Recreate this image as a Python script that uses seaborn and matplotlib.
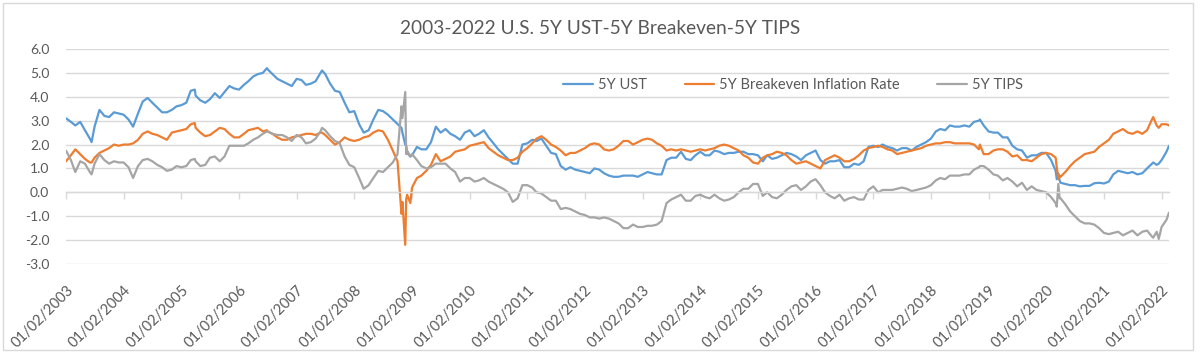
import numpy as np
import pandas as pd
import matplotlib
matplotlib.use("Agg")
import matplotlib.pyplot as plt
import matplotlib.dates as mdates
from matplotlib.lines import Line2D
from matplotlib.patches import Rectangle
import seaborn as sns

# ---------------- data (monthly readings, 2nd of each month, 2003-01 .. 2022-02) -------------
title = "2003-2022 U.S. 5Y UST-5Y Breakeven-5Y TIPS"
series_names = ["5Y UST", "5Y Breakeven Inflation Rate", "5Y TIPS"]
series_colors = ["#5B9BD5", "#ED7D31", "#A5A5A5"]

ust = [
    3.10, 2.95, 2.80, 2.95, 2.60, 2.25, 2.75, 3.45, 3.20, 3.15, 3.35, 3.30,  # 2003
    3.25, 3.05, 2.75, 3.30, 3.80, 3.95, 3.75, 3.55, 3.35, 3.35, 3.45, 3.60,  # 2004
    3.65, 3.75, 4.25, 4.05, 3.85, 3.75, 3.90, 4.15, 3.95, 4.20, 4.45, 4.35,  # 2005
    4.30, 4.50, 4.65, 4.85, 4.95, 5.00, 5.15, 4.95, 4.75, 4.65, 4.55, 4.45,  # 2006
    4.75, 4.70, 4.50, 4.55, 4.65, 5.00, 4.95, 4.55, 4.25, 4.20, 3.75, 3.35,  # 2007
    3.40, 2.85, 2.50, 2.60, 3.05, 3.45, 3.40, 3.25, 3.05, 2.85, 2.50, 1.65,  # 2008
    1.55, 1.90, 1.80, 1.80, 2.10, 2.75, 2.50, 2.65, 2.45, 2.35, 2.20, 2.50,  # 2009
    2.60, 2.35, 2.45, 2.60, 2.30, 2.05, 1.80, 1.60, 1.40, 1.20, 1.20, 2.00,  # 2010
    2.05, 2.20, 2.15, 2.25, 1.95, 1.65, 1.60, 1.10, 0.95, 1.05, 0.95, 0.90,  # 2011
    0.85, 0.80, 1.00, 0.95, 0.80, 0.70, 0.65, 0.65, 0.70, 0.70, 0.70, 0.65,  # 2012
    0.75, 0.85, 0.80, 0.75, 0.75, 1.35, 1.45, 1.45, 1.70, 1.40, 1.35, 1.55,  # 2013
    1.70, 1.55, 1.55, 1.75, 1.70, 1.60, 1.65, 1.65, 1.70, 1.70, 1.60, 1.60,  # 2014
    1.55, 1.30, 1.55, 1.40, 1.45, 1.55, 1.65, 1.60, 1.50, 1.35, 1.55, 1.65,  # 2015
    1.75, 1.35, 1.20, 1.30, 1.30, 1.35, 1.05, 1.05, 1.20, 1.15, 1.30, 1.90,  # 2016
    1.95, 1.90, 2.00, 1.90, 1.85, 1.75, 1.85, 1.85, 1.75, 1.90, 2.00, 2.10,  # 2017
    2.25, 2.55, 2.65, 2.60, 2.80, 2.75, 2.75, 2.80, 2.75, 2.95, 3.00, 2.80,  # 2018
    2.55, 2.50, 2.50, 2.30, 2.30, 1.95, 1.80, 1.75, 1.45, 1.55, 1.55, 1.65,  # 2019
    1.65, 1.35, 0.90, 0.40, 0.35, 0.30, 0.30, 0.25, 0.27, 0.27, 0.38, 0.40,  # 2020
    0.37, 0.45, 0.75, 0.90, 0.85, 0.80, 0.85, 0.75, 0.80, 1.00, 1.20, 1.15,  # 2021
    1.35, 1.70,                                                              # 2022
]
breakeven = [
    1.30, 1.55, 1.80, 1.60, 1.40, 1.25, 1.45, 1.65, 1.75, 1.85, 2.00, 1.95,  # 2003
    2.00, 2.00, 2.05, 2.20, 2.45, 2.55, 2.45, 2.40, 2.30, 2.20, 2.50, 2.55,  # 2004
    2.60, 2.65, 2.85, 2.70, 2.50, 2.35, 2.40, 2.55, 2.70, 2.65, 2.45, 2.30,  # 2005
    2.30, 2.45, 2.60, 2.65, 2.70, 2.55, 2.55, 2.45, 2.30, 2.20, 2.20, 2.30,  # 2006
    2.35, 2.40, 2.45, 2.45, 2.40, 2.50, 2.40, 2.20, 2.00, 2.10, 2.30, 2.20,  # 2007
    2.15, 2.20, 2.30, 2.35, 2.50, 2.60, 2.55, 2.20, 1.75, 1.30, -0.40, -0.10,  # 2008
    0.20, 0.60, 0.70, 0.90, 1.15, 1.60, 1.30, 1.40, 1.50, 1.70, 1.75, 1.80,  # 2009
    1.95, 2.00, 2.05, 2.10, 1.85, 1.70, 1.55, 1.45, 1.35, 1.35, 1.45, 1.70,  # 2010
    1.85, 2.05, 2.25, 2.35, 2.20, 2.00, 1.90, 1.75, 1.55, 1.65, 1.65, 1.75,  # 2011
    1.85, 2.00, 2.05, 2.00, 1.80, 1.75, 1.80, 1.95, 2.15, 2.15, 2.00, 2.10,  # 2012
    2.20, 2.25, 2.20, 2.05, 1.95, 1.75, 1.80, 1.75, 1.80, 1.75, 1.70, 1.75,  # 2013
    1.80, 1.75, 1.80, 1.85, 1.95, 2.00, 1.95, 1.85, 1.75, 1.55, 1.45, 1.25,  # 2014
    1.20, 1.45, 1.55, 1.60, 1.70, 1.65, 1.55, 1.35, 1.20, 1.25, 1.30, 1.20,  # 2015
    1.10, 1.00, 1.35, 1.45, 1.55, 1.45, 1.30, 1.30, 1.40, 1.55, 1.75, 1.85,  # 2016
    1.90, 1.95, 1.90, 1.80, 1.75, 1.60, 1.65, 1.70, 1.75, 1.80, 1.85, 1.95,  # 2017
    2.00, 2.05, 2.05, 2.10, 2.10, 2.05, 2.05, 2.05, 2.05, 2.00, 1.80, 1.60,  # 2018
    1.60, 1.75, 1.80, 1.80, 1.70, 1.50, 1.55, 1.35, 1.35, 1.30, 1.45, 1.60,  # 2019
    1.65, 1.60, 1.45, 0.65, 0.85, 1.10, 1.30, 1.45, 1.60, 1.65, 1.70, 1.90,  # 2020
    2.05, 2.20, 2.45, 2.55, 2.65, 2.50, 2.45, 2.55, 2.45, 2.60, 3.05, 2.80,  # 2021
    2.85, 2.85,                                                              # 2022
]
tips = [
    1.75, 1.35, 0.85, 1.30, 1.20, 0.85, 1.20, 1.60, 1.35, 1.20, 1.30, 1.25,  # 2003
    1.25, 1.05, 0.60, 1.10, 1.35, 1.40, 1.30, 1.15, 1.05, 0.90, 0.95, 1.10,  # 2004
    1.05, 1.10, 1.35, 1.30, 1.10, 1.15, 1.45, 1.50, 1.30, 1.50, 1.95, 1.95,  # 2005
    1.95, 1.95, 2.05, 2.20, 2.30, 2.45, 2.55, 2.45, 2.40, 2.40, 2.30, 2.15,  # 2006
    2.40, 2.30, 2.05, 2.10, 2.25, 2.55, 2.60, 2.35, 2.15, 2.05, 1.50, 1.15,  # 2007
    1.05, 0.60, 0.15, 0.30, 0.60, 0.90, 0.85, 1.05, 1.25, 1.60, 3.10, 1.75,  # 2008
    1.60, 1.35, 1.10, 1.00, 1.05, 1.20, 1.20, 1.20, 1.00, 0.85, 0.45, 0.60,  # 2009
    0.60, 0.45, 0.50, 0.60, 0.45, 0.35, 0.25, 0.15, 0.00, -0.40, -0.25, 0.30,  # 2010
    0.30, 0.20, 0.00, -0.05, -0.20, -0.35, -0.35, -0.70, -0.65, -0.70, -0.80, -0.90,  # 2011
    -0.95, -1.05, -1.05, -1.10, -1.05, -1.10, -1.20, -1.30, -1.50, -1.50, -1.35, -1.45,  # 2012
    -1.45, -1.40, -1.40, -1.35, -1.20, -0.45, -0.30, -0.20, -0.10, -0.35, -0.35, -0.15,  # 2013
    -0.10, -0.20, -0.25, -0.10, -0.25, -0.35, -0.30, -0.20, 0.00, 0.15, 0.15, 0.35,  # 2014
    0.35, -0.15, 0.00, -0.20, -0.25, -0.10, 0.10, 0.25, 0.30, 0.10, 0.25, 0.45,  # 2015
    0.55, 0.30, 0.00, -0.15, -0.25, -0.10, -0.35, -0.25, -0.20, -0.30, -0.30, 0.10,  # 2016
    0.25, 0.00, 0.10, 0.10, 0.10, 0.15, 0.20, 0.15, 0.05, 0.10, 0.15, 0.20,  # 2017
    0.30, 0.50, 0.60, 0.55, 0.70, 0.70, 0.70, 0.75, 0.75, 0.95, 1.05, 1.10,  # 2018
    0.95, 0.75, 0.70, 0.50, 0.60, 0.45, 0.25, 0.40, 0.10, 0.25, 0.10, 0.05,  # 2019
    0.00, -0.20, -0.45, -0.25, -0.50, -0.80, -1.00, -1.20, -1.30, -1.30, -1.35, -1.50,  # 2020
    -1.70, -1.75, -1.70, -1.65, -1.80, -1.70, -1.60, -1.80, -1.65, -1.60, -1.85, -1.65,  # 2021
    -1.45, -1.15,                                                            # 2022
]

# extra readings at visible peaks/troughs and shocks, plus the last observation
extra_dates = ["2003-06-13", "2005-03-28", "2006-06-28", "2007-06-12",
               "2008-10-27", "2008-11-20", "2008-11-26", "2008-12-22",
               "2018-11-08", "2020-03-09", "2020-03-19", "2020-03-27",
               "2021-11-10", "2021-12-15", "2022-02-18"]
extra_ust = [2.10, 4.30, 5.20, 5.10, 2.70, 2.00, 1.95, 1.50,
             3.05, 0.55, 0.80, 0.50, 1.25, 1.20, 1.95]
extra_breakeven = [1.25, 2.90, 2.60, 2.50, -0.90, -2.20, -0.30, -0.45,
                   2.00, 1.05, 0.55, 0.70, 3.15, 2.70, 2.80]
extra_tips = [0.75, 1.40, 2.55, 2.70, 3.60, 4.20, 1.60, 1.50,
              1.10, -0.60, 0.35, -0.25, -1.90, -1.95, -0.85]

year_ticks = list(range(2003, 2023))

# ---------------- build long table ----------------
dates = pd.date_range("2003-01-01", "2022-02-01", freq="MS") + pd.Timedelta(days=1)
xdates = pd.to_datetime(extra_dates)
frames = []
for name, main, extra in zip(series_names, [ust, breakeven, tips],
                             [extra_ust, extra_breakeven, extra_tips]):
    d = pd.DataFrame({"date": list(dates) + list(xdates),
                      "value": list(main) + list(extra)})
    d["series"] = name
    frames.append(d.sort_values("date"))
df = pd.concat(frames, ignore_index=True)

# ---------------- plot ----------------
sns.set_theme(style="white")
plt.rcParams["font.family"] = ["Lato", "DejaVu Sans"]

W, H = 1200, 353
fig = plt.figure(figsize=(W / 100, H / 100), dpi=100)
ax = fig.add_axes([66 / W, 1 - 264 / H, (1169 - 66) / W, (264 - 49) / H])

sns.lineplot(data=df, x="date", y="value", hue="series", hue_order=series_names,
             palette=series_colors, linewidth=1.6, estimator=None, sort=True,
             legend=False, ax=ax)

grid_c = "#D9D9D9"
text_c = "#595959"
ax.set_ylim(-3, 6)
ax.set_yticks(np.arange(-3, 7, 1))
ax.yaxis.set_major_formatter(matplotlib.ticker.FuncFormatter(lambda v, p: f"{v:.1f}"))
ax.grid(axis="y", color=grid_c, linewidth=1.0)
ax.grid(axis="x", visible=False)
ax.set_axisbelow(True)
ax.set_xlim(pd.Timestamp("2003-01-02"), pd.Timestamp("2022-02-18"))
ax.set_xlabel("")
ax.set_ylabel("")
for s in ["left", "right", "top"]:
    ax.spines[s].set_visible(False)
ax.spines["bottom"].set_position(("data", 0))
ax.spines["bottom"].set_color(grid_c)
ax.spines["bottom"].set_linewidth(1.0)

tick_dates = pd.to_datetime([f"{y}-01-02" for y in year_ticks])
tick_nums = mdates.date2num(tick_dates)
ax.set_xticks(tick_nums)
ax.tick_params(axis="x", length=5, width=1.0, color=grid_c, direction="out",
               labelbottom=False, bottom=True)
ax.tick_params(axis="y", length=0, labelsize=10, labelcolor=text_c, pad=12)

sec = ax.secondary_xaxis("bottom")
sec.set_xticks(tick_nums, labels=[d.strftime("%m/%d/%Y") for d in tick_dates])
sec.tick_params(length=0, pad=14, labelsize=10.5, labelcolor=text_c)
sec.spines["bottom"].set_visible(False)
for lbl in sec.get_xticklabels():
    lbl.set_rotation(45)
    lbl.set_ha("right")
    lbl.set_rotation_mode("anchor")

fig.text(0.5, 1 - 28 / H, title, ha="center", va="center", fontsize=13.8, color=text_c)

handles = [Line2D([0], [0], color=c, lw=1.6) for c in series_colors]
fig.legend(handles, series_names, loc="center", bbox_to_anchor=(793 / W, 1 - 85 / H),
           ncol=3, frameon=False, fontsize=10.5, handlelength=2.0, handletextpad=0.35,
           columnspacing=2.6, labelcolor=text_c)

fig.patches.append(Rectangle((3 / W, 3 / H), (1193 - 3) / W, (350 - 3) / H,
                             transform=fig.transFigure, fill=False,
                             edgecolor=grid_c, linewidth=1.0))

fig.savefig("out.png", dpi=100, facecolor="white")
